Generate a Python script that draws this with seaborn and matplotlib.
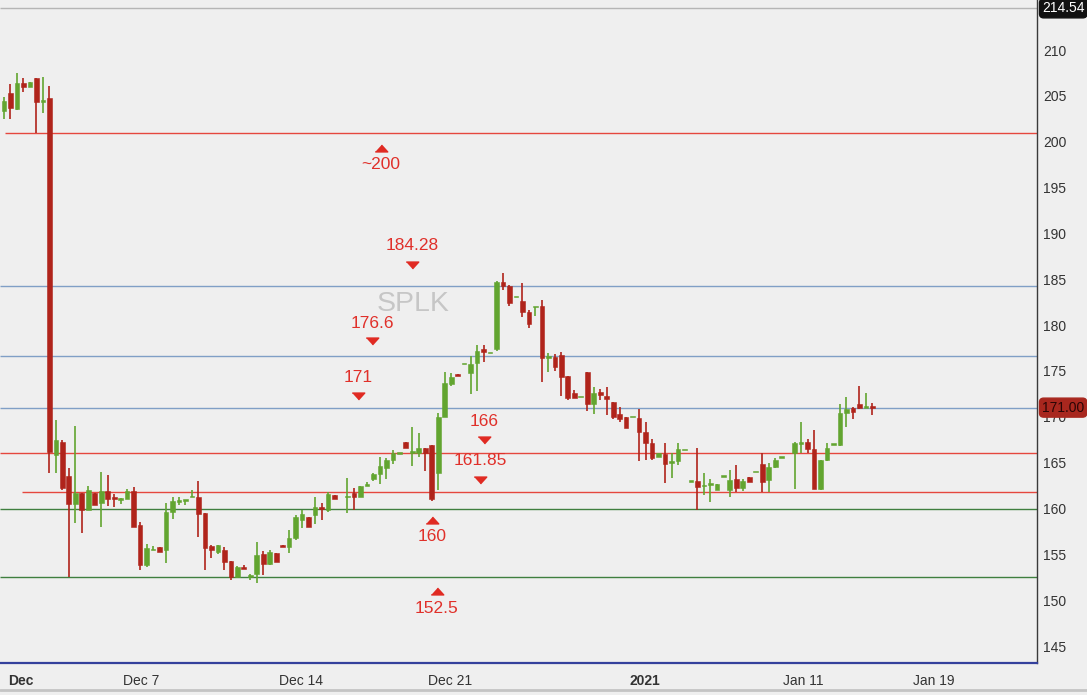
import matplotlib
matplotlib.use("Agg")
import matplotlib.pyplot as plt
import numpy as np
import pandas as pd
import seaborn as sns
from matplotlib import transforms
from matplotlib.lines import Line2D

# ---------------- data (SPLK intraday bars) ----------------
OPEN = [203.3, 205.3, 203.6, 206.4, 206.0, 206.9, 204.3, 204.8, 165.8, 167.3,
        163.5, 160.5, 161.7, 159.8, 161.7, 160.6, 161.9, 161.2, 161.0, 161.0,
        161.9, 158.2, 153.8, 155.5, 155.8, 155.5, 159.6, 160.8, 160.9, 161.3,
        161.3, 159.5, 155.9, 155.3, 155.5, 154.3, 152.5, 153.6, 152.5, 152.9,
        155.0, 154.0, 155.2, 156.0, 155.8, 156.8, 158.8, 159.1, 159.3, 160.2,
        159.8, 161.5, None, 161.2, 161.7, 161.3, 162.5, 163.2, 163.8, 164.4,
        165.3, 166.0, 167.2, 166.1, 166.1, 166.6, 166.9, 163.9, 170.0, 173.6,
        174.7, 175.8, 174.8, 175.9, 177.4, 177.0, 177.4, 184.7, 184.3, 183.1,
        182.6, 181.4, 182.0, 182.1, 176.4, 176.5, 176.7, 174.4, 172.6, 172.2,
        174.9, 171.4, 172.7, 172.3, 171.6, 170.3, 170.0, 170.0, 169.9, 168.3,
        167.1, 165.6, 165.9, 165.0, 165.2, 166.4, 163.0, 163.0, 162.4, 162.6,
        162.0, 163.5, 162.0, 163.2, 162.2, 163.4, 164.0, 164.9, 163.1, 164.5,
        165.6, None, 166.0, 167.1, 167.3, 166.5, 162.1, 165.3, 167.0, 166.9,
        170.4, 171.0, 171.4, 171.0, 171.1]
HIGH = [204.9, 206.3, 207.5, 206.9, 206.5, 207.0, 207.1, 206.1, 169.7, 167.5,
        164.4, 169.0, 161.7, 162.4, 161.7, 164.0, 163.7, 161.6, 161.1, 162.1,
        162.3, 158.5, 156.1, 155.9, 155.8, 160.6, 161.3, 161.2, 160.9, 162.0,
        163.0, 159.5, 156.0, 156.0, 155.8, 154.3, 153.7, 153.8, 152.9, 156.3,
        155.4, 155.5, 155.2, 156.0, 157.7, 159.3, 159.8, 159.1, 161.3, 160.6,
        161.8, 161.5, None, 163.3, 162.2, 162.5, 162.9, 163.9, 165.6, 165.5,
        166.4, 166.0, 167.2, 168.9, 168.2, 166.6, 166.9, 170.4, 174.9, 174.8,
        174.7, 175.8, 176.6, 177.8, 177.8, 177.0, 184.8, 185.7, 184.4, 183.1,
        184.6, 181.6, 182.0, 182.7, 177.0, 176.9, 177.1, 174.4, 172.9, 172.2,
        174.9, 173.3, 173.0, 173.3, 171.6, 171.1, 170.0, 170.0, 170.9, 169.4,
        167.6, 166.0, 167.1, 166.0, 167.1, 166.4, 163.0, 166.6, 163.9, 163.2,
        162.7, 163.5, 164.2, 164.7, 163.2, 163.4, 164.0, 166.0, 165.0, 165.5,
        165.6, None, 167.3, 169.4, 167.6, 168.6, 165.3, 167.1, 167.0, 171.4,
        172.2, 171.1, 173.4, 172.6, 171.5]
LOW = [202.5, 202.5, 203.5, 205.4, 206.0, 200.9, 203.1, 163.9, 163.9, 162.0,
       152.5, 158.4, 157.3, 159.8, 160.4, 158.0, 160.3, 160.2, 160.5, 161.0,
       158.0, 153.3, 153.6, 155.5, 155.3, 154.1, 158.9, 160.4, 160.4, 161.3,
       156.9, 153.3, 154.6, 155.0, 153.3, 152.2, 152.4, 153.4, 152.2, 151.9,
       152.7, 153.8, 154.2, 155.8, 155.1, 156.6, 157.9, 158.0, 158.3, 158.7,
       159.6, 161.0, None, 159.5, 159.8, 161.2, 162.5, 163.0, 162.7, 163.2,
       164.8, 166.0, 166.6, 164.6, 165.6, 164.1, 160.8, 162.0, 170.0, 173.4,
       174.4, 175.8, 172.5, 172.8, 176.0, 177.0, 177.2, 183.8, 182.1, 183.1,
       180.9, 179.7, 181.0, 173.8, 174.9, 175.0, 172.3, 171.8, 172.1, 172.2,
       170.6, 170.3, 171.8, 170.2, 169.8, 169.4, 168.8, 170.0, 165.2, 165.3,
       165.3, 165.6, 162.8, 163.3, 164.7, 166.4, 163.0, 159.8, 161.5, 160.7,
       162.0, 163.5, 161.3, 161.8, 161.9, 162.9, 164.0, 161.8, 161.8, 164.4,
       165.6, None, 162.1, 166.0, 166.1, 162.1, 162.0, 165.2, 167.0, 166.8,
       168.9, 169.8, 170.9, 171.0, 170.2]
CLOSE = [204.4, 203.7, 206.4, 206.0, 206.5, 204.3, 204.6, 166.2, 167.5, 162.2,
         160.5, 161.7, 159.8, 162.0, 160.4, 161.9, 161.0, 161.0, 161.1, 161.9,
         158.0, 153.8, 155.7, 155.55, 155.3, 159.6, 160.8, 160.9, 160.95, 161.35,
         159.4, 155.7, 155.5, 156.0, 154.2, 152.5, 153.6, 153.4, 152.8, 154.9,
         154.0, 155.3, 154.2, 155.8, 156.8, 159.1, 159.4, 158.0, 160.2, 159.9,
         161.6, 161.0, None, 161.4, 161.3, 162.5, 162.6, 163.8, 164.6, 165.3,
         166.1, 166.05, 166.6, 166.2, 166.6, 166.1, 161.0, 170.0, 173.7, 174.3,
         174.4, 175.85, 175.8, 177.2, 177.1, 177.05, 184.7, 184.3, 182.4, 183.15,
         181.4, 180.1, 182.05, 176.4, 176.6, 175.4, 174.3, 172.1, 172.1, 172.25,
         171.4, 172.6, 172.4, 171.9, 170.0, 169.8, 168.8, 170.05, 168.3, 167.1,
         165.5, 166.0, 164.9, 165.2, 166.5, 166.45, 163.05, 162.3, 162.6, 162.8,
         162.7, 163.55, 163.1, 162.2, 163.0, 162.9, 164.05, 162.9, 164.5, 165.3,
         165.65, None, 167.1, 167.2, 166.5, 162.1, 165.3, 166.6, 167.05, 170.4,
         170.9, 170.5, 171.0, 171.1, 171.0]

LEVELS = [214.54, 201.0, 184.28, 176.6, 171.0, 166.0, 161.85, 160.0, 152.5]
LEVEL_KIND = ["top", "red", "blue", "blue", "blue", "red", "red", "green", "green"]

ANNOT_TEXT = ["~200", "184.28", "176.6", "171", "166", "161.85", "160", "152.5"]
ANNOT_LEVEL = [201.0, 184.28, 176.6, 171.0, 166.0, 161.85, 160.0, 152.5]

XTICK_LABELS = ["Dec", "Dec 7", "Dec 14", "Dec 21", "2021", "Jan 11", "Jan 19"]
XTICK_BARS = [0.6, 18.4, 42.4, 65.4, 96.5, 120.2, 140.3]
YTICKS = list(range(145, 211, 5))
TICKER = "SPLK"
LAST_PRICE = 171.00

# ---------------- style ----------------
sns.set_theme(style="white")
plt.rcParams["font.family"] = ["Liberation Sans", "DejaVu Sans"]

BG = "#efefef"
UP = "#62a530"
DOWN = "#b0241b"
LINE_COL = {"top": "#b5b5b5", "red": "#e5473e", "blue": "#809fc6", "green": "#3f7f3f"}

df = pd.DataFrame({"open": OPEN, "high": HIGH, "low": LOW, "close": CLOSE}, dtype=float)
df["bar"] = np.arange(len(df))
df = df.dropna()
df["up"] = df["close"] >= df["open"]

fig = plt.figure(figsize=(10.87, 6.95), dpi=100)
fig.patch.set_facecolor(BG)
W, H = 1087.0, 695.0
ax = fig.add_axes([0, 1 - 663 / H, 1037 / W, 663 / H])
ax.set_facecolor(BG)

# level lines
for lv, kind in zip(LEVELS, LEVEL_KIND):
    x0 = -0.62
    if lv == 161.85:
        x0 = 2.8
    elif lv == 201.0:
        x0 = 0.15
    ax.hlines(lv, x0, 159.4, color=LINE_COL[kind], lw=1.0, zorder=2)

# wicks
colors = np.where(df["up"], UP, DOWN)
ax.vlines(df["bar"], df["low"], df["high"], colors=colors, lw=1.2, zorder=3)
# bodies
body_lo = np.minimum(df["open"], df["close"])
body_h = np.abs(df["close"] - df["open"])
small = body_h < 0.15
body_lo = np.where(small, (df["open"] + df["close"]) / 2 - 0.09, body_lo)
body_h = np.where(small, 0.18, body_h)
ax.bar(df["bar"], body_h, bottom=body_lo, width=0.72, color=colors,
       edgecolor=colors, linewidth=0.4, zorder=4)

# watermark
ax.text(63.1, 182.3, TICKER, fontsize=20.5, color="#c6c6c6", ha="center", va="center", zorder=1)

# annotations (triangle + label)
ann_x = [58.2, 63.0, 56.8, 54.6, 74.1, 73.5, 66.0, 66.8]
ann_dir = [-1, 1, 1, 1, 1, 1, -1, -1]
tri_off = [15, 21, 15, 12, 13, 12, 11, 14]
txt_off = [32, 40, 33, 30, 32, 31, 28, 31]
up_tri = [(-1, -0.55), (1, -0.55), (0, 0.55)]
dn_tri = [(-1, 0.55), (1, 0.55), (0, -0.55)]
for t, lv, x, d, to, xo in zip(ANNOT_TEXT, ANNOT_LEVEL, ann_x, ann_dir, tri_off, txt_off):
    tr_m = transforms.offset_copy(ax.transData, fig=fig, y=d * to, units="dots")
    tr_t = transforms.offset_copy(ax.transData, fig=fig, y=d * xo, units="dots")
    ax.plot([x], [lv], marker=(up_tri if d < 0 else dn_tri), ms=9, color="#e02a22",
            mec="#e02a22", transform=tr_m, zorder=6, ls="none")
    ax.text(x, lv, t, transform=tr_t, fontsize=12.5, color="#e0302a",
            ha="center", va="center", zorder=6)

# axes limits & spines
ax.set_xlim(-0.62, 159.4)
ax.set_ylim(210 - 613 / 9.17, 210 + 50 / 9.17)
for s in ["left", "top"]:
    ax.spines[s].set_visible(False)
ax.spines["right"].set_color("#3a3a3a")
ax.spines["right"].set_linewidth(1.0)
ax.spines["bottom"].set_color("#34409c")
ax.spines["bottom"].set_linewidth(1.6)
ax.grid(False)

ax.yaxis.tick_right()
ax.set_yticks(YTICKS)
ax.set_yticklabels([str(v) for v in YTICKS])
ax.tick_params(axis="y", length=0, pad=4.5, labelsize=10, labelcolor="#333333")

ax.set_xticks(XTICK_BARS)
ax.set_xticklabels(XTICK_LABELS)
ax.tick_params(axis="x", length=4, width=0.8, color="#777777", pad=4,
               labelsize=10, labelcolor="#333333", direction="out")
for lab in ax.get_xticklabels():
    lab.set_horizontalalignment("left")
    lab.set_family(["Liberation Sans Narrow", "Liberation Sans", "DejaVu Sans"])
    if lab.get_text() in ("Dec", "2021"):
        lab.set_fontweight("bold")

# price boxes on right
blend = transforms.blended_transform_factory(ax.transAxes, ax.transData)
ax.text(1.0 + 5 / 1037, LEVELS[0], f"{LEVELS[0]:.2f}", transform=blend, ha="left", va="center",
        fontsize=10, color="white", zorder=10, clip_on=False,
        bbox=dict(boxstyle="round,pad=0.18,rounding_size=0.3", fc="#111111", ec="#111111"))
ax.text(1.0 + 5 / 1037, LAST_PRICE, f"{LAST_PRICE:.2f}", transform=blend, ha="left", va="center",
        fontsize=10, color="#2a0505", zorder=10, clip_on=False,
        bbox=dict(boxstyle="round,pad=0.18,rounding_size=0.3", fc="#a8271e", ec="#a8271e"))

# bottom strip
fig.add_artist(Line2D([0, 1], [5 / H, 5 / H], color="#c4c4c4", lw=2, transform=fig.transFigure))

fig.savefig("out.png", dpi=100, facecolor=BG)
